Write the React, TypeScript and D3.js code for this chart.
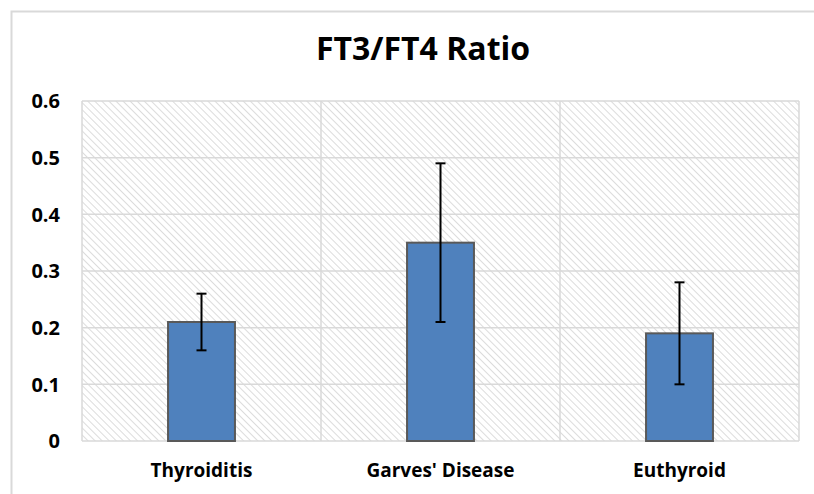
import React, { useMemo } from "react";
import * as d3 from "d3";

const width = 814;
const height = 494;
const margin = { top: 101, right: 15, bottom: 53, left: 82 };

const categories = ["Thyroiditis", "Garves' Disease", "Euthyroid"];
const ratios = [0.21, 0.35, 0.19];
const errors = [0.05, 0.14, 0.09];
const yTicks = [0, 0.1, 0.2, 0.3, 0.4, 0.5, 0.6];

const font = "'Open Sans', Lato, sans-serif";

const App = () => {
  const x = useMemo(
    () =>
      d3
        .scaleBand()
        .domain(categories)
        .range([margin.left, width - margin.right])
        .paddingInner(0)
        .paddingOuter(0),
    []
  );
  const y = useMemo(
    () =>
      d3
        .scaleLinear()
        .domain([0, 0.6])
        .range([height - margin.bottom, margin.top]),
    []
  );

  const barW = x.bandwidth() * 0.28;
  const left = margin.left;
  const right = width - margin.right;
  const top = margin.top;
  const bottom = height - margin.bottom;

  return (
    <svg
      width={width}
      height={height}
      style={{ position: "absolute", left: 0, top: 0, background: "#fff" }}
    >
      <defs>
        <pattern
          id="hatch"
          width={5}
          height={5}
          patternUnits="userSpaceOnUse"
          patternTransform="rotate(-45)"
        >
          <line x1={0} y1={0} x2={0} y2={5} stroke="#dcdcdc" strokeWidth={2} />
        </pattern>
      </defs>
      {/* chart frame, cut off at the right and bottom */}
      <path
        d={`M11.5,${height + 2} V11.5 H${width + 2}`}
        fill="none"
        stroke="#d9d9d9"
        strokeWidth={2}
      />
      <text
        x={423}
        y={60}
        textAnchor="middle"
        fontFamily={font}
        fontWeight="bold"
        fontSize={32}
        fill="#000"
      >
        FT3/FT4 Ratio
      </text>

      <rect
        x={left}
        y={top}
        width={right - left}
        height={bottom - top}
        fill="url(#hatch)"
      />
      {/* horizontal gridlines */}
      {yTicks.map((t) => (
        <line
          key={t}
          x1={left}
          x2={right}
          y1={y(t)}
          y2={y(t)}
          stroke="#d9d9d9"
          strokeWidth={1.5}
        />
      ))}
      {/* vertical gridlines at category boundaries */}
      {categories.map((c) => (
        <line
          key={c}
          x1={x(c)}
          x2={x(c)}
          y1={top}
          y2={bottom}
          stroke="#d9d9d9"
          strokeWidth={1.5}
        />
      ))}
      <line x1={right} x2={right} y1={top} y2={bottom} stroke="#d9d9d9" strokeWidth={1.5} />

      {yTicks.map((t) => (
        <text
          key={t}
          x={60}
          y={y(t)}
          dy="0.36em"
          textAnchor="end"
          fontFamily={font}
          fontWeight="bold"
          fontSize={20}
          fill="#000"
        >
          {t === 0 ? "0" : t.toFixed(1)}
        </text>
      ))}

      {categories.map((c, i) => {
        const cx = (x(c) as number) + x.bandwidth() / 2;
        const v = ratios[i];
        const e = errors[i];
        return (
          <g key={c}>
            <rect
              x={cx - barW / 2}
              y={y(v)}
              width={barW}
              height={bottom - y(v)}
              fill="#4f81bd"
              stroke="#595959"
              strokeWidth={2}
            />
            <line x1={cx} x2={cx} y1={y(v + e)} y2={y(v - e)} stroke="#000" strokeWidth={2} />
            <line x1={cx - 5} x2={cx + 5} y1={y(v + e)} y2={y(v + e)} stroke="#000" strokeWidth={2} />
            <line x1={cx - 5} x2={cx + 5} y1={y(v - e)} y2={y(v - e)} stroke="#000" strokeWidth={2} />
            <text
              x={cx}
              y={477}
              textAnchor="middle"
              fontFamily={font}
              fontWeight="bold"
              fontSize={19}
              fill="#000"
            >
              {c}
            </text>
          </g>
        );
      })}
    </svg>
  );
};

export default App;
